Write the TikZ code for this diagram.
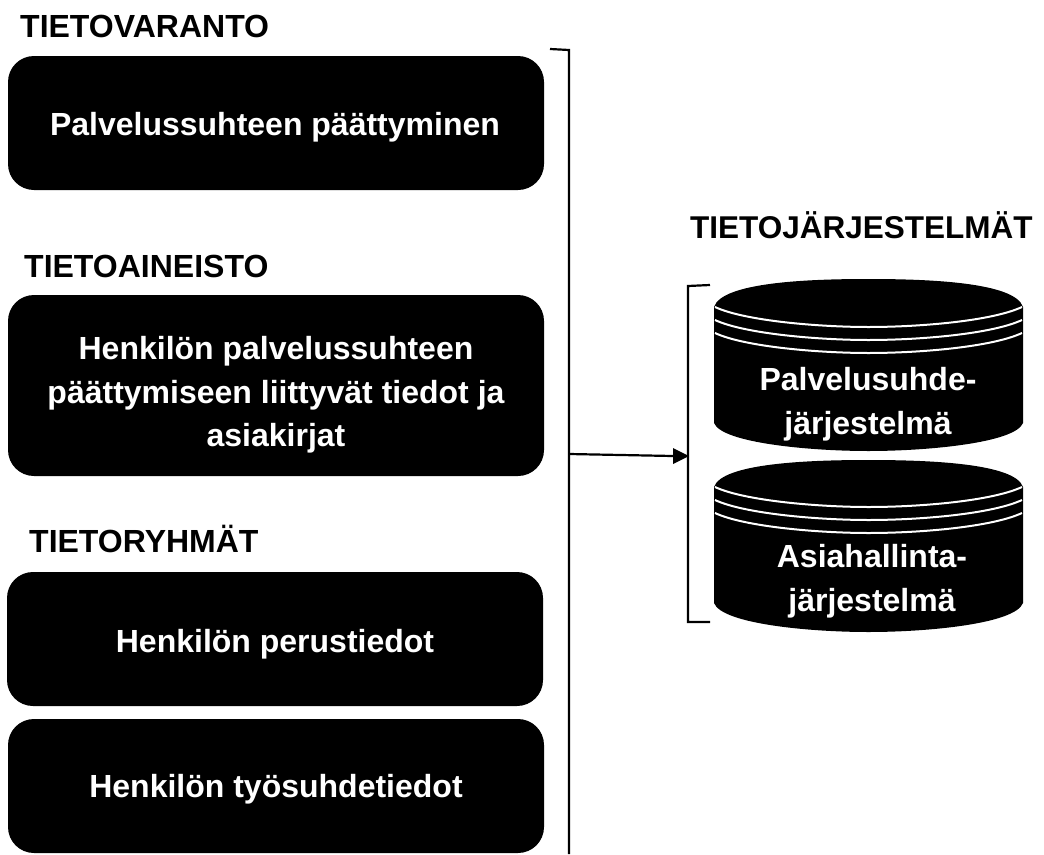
\documentclass[tikz,border=0pt]{standalone}
\usepackage{fontspec}
\setmainfont{Liberation Sans}
\tikzset{
  blackbox/.style={fill=black,rounded corners=26pt,draw=none},
  boxtext/.style={text=white,font=\fontsize{32}{43.5}\bfseries\selectfont,align=center,anchor=center},
  heading/.style={text=black,font=\fontsize{32}{36}\bfseries\selectfont,anchor=base west,inner sep=0pt},
  bracketline/.style={draw=black,line width=2.2pt},
  disk/.style={white,line width=2pt}
}
\newcommand{\diskshape}[6]{%
  \fill[black] (714,#2) .. controls (722,#1+3) and (810,#1) .. (868.5,#1) .. controls (927,#1) and (1015,#1+3) .. (1023,#2)
    -- (1023,#3) .. controls (1015,#4-8) and (927,#4) .. (868.5,#4) .. controls (810,#4) and (722,#4-8) .. (714,#3) -- cycle;
  \foreach \k in {0,1,2}{
    \draw[disk] (715,#5+\k*#6) .. controls (745,#5+\k*#6+14) and (820,#5+\k*#6+20) .. (868.5,#5+\k*#6+20)
      .. controls (920,#5+\k*#6+20) and (992,#5+\k*#6+14) .. (1022,#5+\k*#6);
  }
}
\begin{document}
\begin{tikzpicture}[x=1pt,y=-1pt]
\useasboundingbox (0,0) rectangle (1044,854);
\fill[blackbox] (8,56) rectangle (544,190);
\fill[blackbox] (8,295) rectangle (544,476);
\fill[blackbox] (7,572) rectangle (543,706);
\fill[blackbox] (8,719) rectangle (544,853);
\node[boxtext] (t1) at (275,127) {Palvelussuhteen päättyminen};
\node[boxtext] (t2) at (276,395) {Henkilön palvelussuhteen\\päättymiseen liittyvät tiedot ja\\asiakirjat};
\node[boxtext] (t3) at (275,644) {Henkilön perustiedot};
\node[boxtext] (t4) at (276,789) {Henkilön työsuhdetiedot};
\node[heading] (h1) at (20,37) {TIETOVARANTO};
\node[heading] (h2) at (24,277) {TIETOAINEISTO};
\node[heading] (h3) at (29,552) {TIETORYHMÄT};
\node[heading,font=\fontsize{31.5}{36}\bfseries\selectfont] (h4) at (690,238) {TIETOJÄRJESTELMÄT};
\diskshape{279}{307}{423}{451}{307}{13}
\diskshape{460}{487}{603}{632}{487}{13}
\node[boxtext] (d1) at (868,404) {Palvelusuhde-\\järjestelmä};
\node[boxtext] (d2) at (872,581) {Asiahallinta-\\järjestelmä};
\coordinate (ra) at (550,49);
\coordinate (rb) at (569,50);
\coordinate (rc) at (569,854);
\coordinate (ao) at (569,454);
\coordinate (la) at (710,285);
\coordinate (lb) at (688,286);
\coordinate (lc) at (688,622);
\coordinate (ld) at (710,622);
\coordinate (ae) at (689,456);
\draw[bracketline,line cap=butt,line join=miter] (ra) -- (rb) -- (rc);
\draw[bracketline,line join=miter] (la) -- (lb) -- (lc) -- (ld);
\draw[draw=black,line width=2.2pt] (ao) -- (673,456);
\fill[black] (ae) -- (673,448) -- (673,464) -- cycle;
\end{tikzpicture}
\end{document}
